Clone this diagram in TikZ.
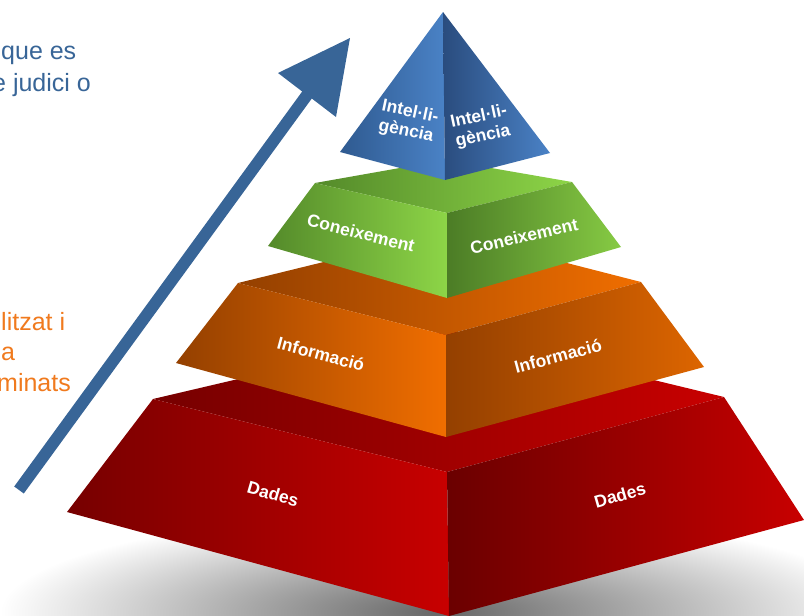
\documentclass[tikz,border=0pt]{standalone}
\usepackage{fontspec}
\setmainfont{Liberation Sans}
\usepackage{tikz}

\definecolor{arrowblue}{HTML}{386597}
\definecolor{txtorange}{HTML}{F07A1E}
\definecolor{blueDk}{HTML}{2A4C7E}
\definecolor{blueMd}{HTML}{2F5A90}
\definecolor{blueLt}{HTML}{4A82C6}
\definecolor{greenDk}{HTML}{548A2A}
\definecolor{greenLt}{HTML}{8DD547}
\definecolor{orangeDk}{HTML}{944000}
\definecolor{orangeLt}{HTML}{F06E00}
\definecolor{redDk}{HTML}{760000}
\definecolor{redLt}{HTML}{C80000}

\begin{document}
\begin{tikzpicture}[x=1pt, y=-1pt,
	lbl/.style={text=white, font=\bfseries\fontsize{17.5}{20}\selectfont, align=center, inner sep=0pt},
	sidetxt/.style={anchor=base west, inner sep=0pt, font=\fontsize{25}{30}\selectfont}]
\useasboundingbox (0,0) rectangle (804,616);
\clip (0,0) rectangle (804,616);

% shadow
\shade[inner color=black!60, outer color=white] (440,612) ellipse (440 and 100);

% arrow
\fill[arrowblue] (14.2,486.5) -- (302.2,91.5) -- (278,73) -- (350,38) -- (336,117)
	-- (311.8,98.5) -- (23.8,493.5) -- cycle;

% cut-off text on the left
\node[sidetxt, text=arrowblue] (judici1) at (1,59) {que es};
\node[sidetxt, text=arrowblue] (judici2) at (-8,91) {e judici o};
\node[sidetxt, text=txtorange] (util1) at (1,330) {litzat i};
\node[sidetxt, text=txtorange] (util2) at (1,360) {a};
\node[sidetxt, text=txtorange] (util3) at (-3,391) {minats};

% Dades
\shade[left color=redDk, right color=redLt] (153,399) -- (447,330) -- (724,397) -- (447,472) -- cycle;
\shade[left color=redDk, right color=redLt] (153,399) -- (447,472) -- (449,616) -- (67,512) -- cycle;
\shade[left color=redDk!90!black, right color=redLt] (447,472) -- (724,397) -- (804,520) -- (449,616) -- cycle;
\node[lbl, rotate=-16] (dadesL) at (273,494) {Dades};
\node[lbl, rotate=16] (dadesR) at (620,495) {Dades};

% Informacio
\shade[left color=orangeDk, right color=orangeLt] (238,283) -- (446,232) -- (641,282) -- (446,335) -- cycle;
\shade[left color=orangeDk, right color=orangeLt] (238,283) -- (446,335) -- (446,437) -- (176,363) -- cycle;
\shade[left color=orangeDk, right color=orangeLt!92!black] (446,335) -- (641,282) -- (704,367) -- (446,437) -- cycle;
\node[lbl, rotate=-15] (infoL) at (321,354) {Informació};
\node[lbl, rotate=15] (infoR) at (558,356) {Informació};

% Coneixement
\shade[left color=greenDk, right color=greenLt] (315,183) -- (445,160) -- (572,182) -- (447,213) -- cycle;
\shade[left color=greenDk, right color=greenLt] (315,183) -- (447,213) -- (447,298) -- (268,246) -- cycle;
\shade[left color=greenDk!90!black, right color=greenLt!95!black] (447,213) -- (572,182) -- (621,247) -- (447,298) -- cycle;
\node[lbl, rotate=-14] (conL) at (361,233) {Coneixement};
\node[lbl, rotate=13] (conR) at (524,236) {Coneixement};

% Intel.ligencia
\shade[left color=blueMd, right color=blueLt] (443,12) -- (340,152) -- (445,180) -- cycle;
\shade[left color=blueDk, right color=blueLt] (443,12) -- (445,180) -- (550,153) -- cycle;
\node[lbl, rotate=-12] (intL) at (408,122) {Intel·li-\\gència};
\node[lbl, rotate=12] (intR) at (481,127) {Intel·li-\\gència};

\end{tikzpicture}
\end{document}
